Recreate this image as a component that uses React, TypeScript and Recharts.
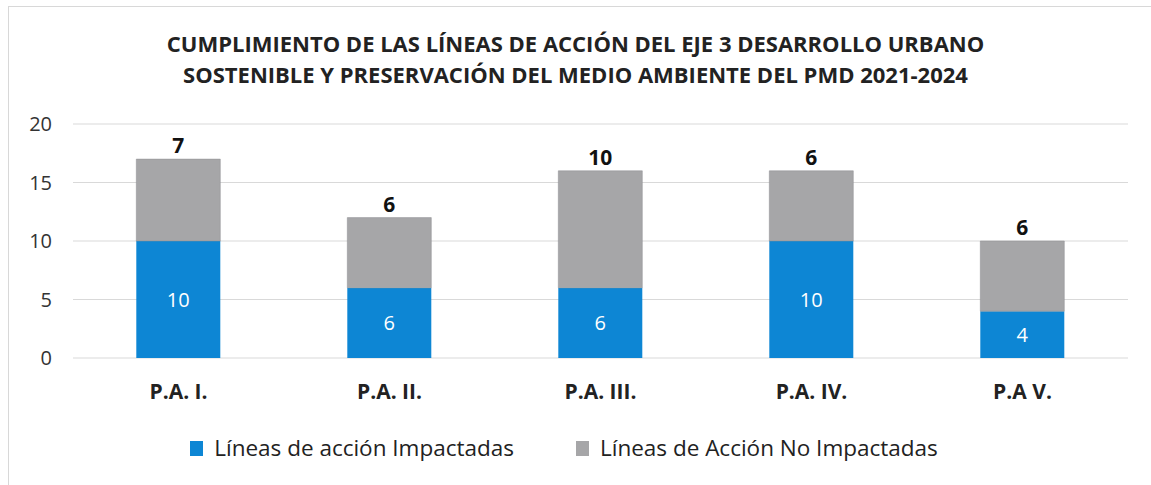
import { Bar, BarChart, CartesianGrid, LabelList, Legend, XAxis, YAxis } from "recharts";

const categories = ["P.A. I.", "P.A. II.", "P.A. III.", "P.A. IV.", "P.A V."];
const impactadas = [10, 6, 6, 10, 4];
const noImpactadas = [7, 6, 10, 6, 6];
const yTicks = [0, 5, 10, 15, 20];

const data = categories.map((name, i) => ({
  name,
  impactadas: impactadas[i],
  noImpactadas: noImpactadas[i],
}));

const BLUE = "#0d86d4";
const GRAY = "#a6a6a8";
const FONT = "'Open Sans', 'Noto Sans', sans-serif";

const renderLegend = () => (
  <div style={{ display: "flex", justifyContent: "center", gap: 62, fontFamily: FONT, fontSize: 22.5, color: "#222", lineHeight: "26px" }}>
    <span style={{ display: "flex", alignItems: "center" }}>
      <span style={{ width: 13, height: 15, background: BLUE, marginRight: 11 }} />
      Líneas de acción Impactadas
    </span>
    <span style={{ display: "flex", alignItems: "center" }}>
      <span style={{ width: 13, height: 15, background: GRAY, marginRight: 11 }} />
      Líneas de Acción No Impactadas
    </span>
  </div>
);

export default function App() {
  return (
    <div style={{ position: "absolute", left: 0, top: 0, width: 1151, height: 485, background: "#fff" }}>
      <div
        style={{
          position: "absolute",
          left: 8,
          top: 6,
          width: 1150,
          height: 490,
          border: "1px solid #d8d8d8",
          boxSizing: "border-box",
        }}
      />
      <div
        style={{
          position: "absolute",
          top: 28,
          left: 0,
          width: 1151,
          textAlign: "center",
          fontFamily: FONT,
          fontWeight: 700,
          fontSize: 22,
          lineHeight: "31px",
          color: "#222",
        }}
      >
        CUMPLIMIENTO DE LAS LÍNEAS DE ACCIÓN DEL EJE 3 DESARROLLO URBANO
        <br />
        SOSTENIBLE Y PRESERVACIÓN DEL MEDIO AMBIENTE DEL PMD 2021-2024
      </div>
      <BarChart
        width={1151}
        height={485}
        data={data}
        margin={{ top: 124, right: 23, left: 0, bottom: 23 }}
        barCategoryGap="30%"
        style={{ position: "absolute", left: 0, top: 0 }}
      >
        <CartesianGrid vertical={false} stroke="#d9d9d9" />
        <XAxis
          dataKey="name"
          axisLine={false}
          tickLine={false}
          height={78}
          tick={{ fill: "#222", fontSize: 21, fontWeight: 700, fontFamily: FONT }}
          tickMargin={20}
        />
        <YAxis
          width={73}
          domain={[0, 20]}
          ticks={yTicks}
          axisLine={false}
          tickLine={false}
          tick={{ fill: "#333", fontSize: 20, fontFamily: FONT }}
          tickMargin={15}
        />
        <Legend verticalAlign="bottom" content={renderLegend} wrapperStyle={{ top: 435 }} />
        <Bar dataKey="impactadas" stackId="a" fill={BLUE} isAnimationActive={false}>
          <LabelList dataKey="impactadas" position="center" fill="#fff" fontSize={20} fontFamily={FONT} />
        </Bar>
        <Bar dataKey="noImpactadas" stackId="a" fill={GRAY} stroke="#8f8f92" strokeWidth={0.5} isAnimationActive={false}>
          <LabelList dataKey="noImpactadas" position="top" fill="#111" fontSize={21} fontWeight={700} fontFamily={FONT} offset={6} />
        </Bar>
      </BarChart>
    </div>
  );
}
